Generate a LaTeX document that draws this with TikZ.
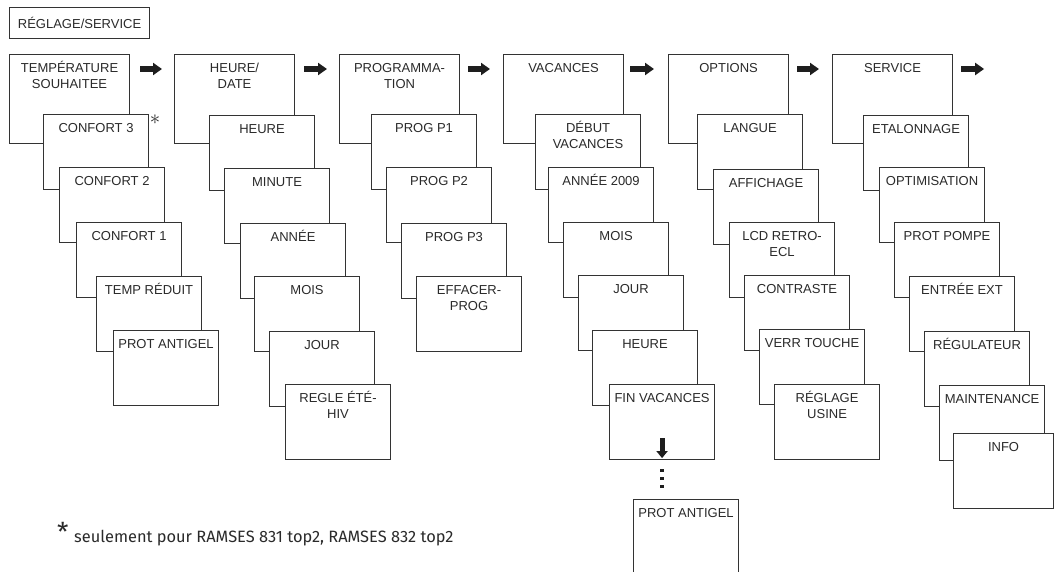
\documentclass[tikz,border=0pt]{standalone}
\usepackage{fontspec}
\setmainfont{Liberation Sans}
\newfontfamily\notefont{Fira Sans}
\usetikzlibrary{arrows.meta,calc}
\definecolor{ln}{HTML}{333333}
\definecolor{tx}{HTML}{2A2A2A}
\definecolor{ar}{HTML}{1E1E1E}
\tikzset{
  box/.style={draw=ln, line width=1.1pt, fill=white, anchor=north west, inner sep=0pt,
              minimum width=105pt, minimum height=75pt},
  topbox/.style={box, minimum width=120pt, minimum height=89pt},
  lbl/.style={anchor=north, inner sep=0pt, align=center, text=tx,
              font=\fontsize{13pt}{16pt}\selectfont},
  nav/.style={draw=ar, line width=6pt, -{Triangle[length=9pt,width=12pt]}},
  downnav/.style={draw=ar, line width=5pt, -{Triangle[length=7pt,width=11pt]}},
  dot/.style={fill=ar},
}
\newcommand\bx[4][box]{%
  \node[#1] (#2) at (#3) {};
  \node[lbl] (#2-t) at ([yshift=-6pt]#2.north) {\rule{0pt}{12pt}#4};}
\begin{document}
\begin{tikzpicture}[x=1pt,y=-1pt]
\useasboundingbox (0,0) rectangle (1055,572);
\clip (0,0) rectangle (1055,572);
% header
\node[draw=ln, line width=1.1pt, anchor=north west, inner sep=0pt, minimum width=140pt,
      minimum height=31pt, text=tx, font=\fontsize{13pt}{16pt}\selectfont] (rs) at (9,7) {RÉGLAGE/SERVICE};
% column 1
\bx[topbox]{c1}{9,54}{TEMPÉRATURE\\SOUHAITEE}
\bx{a1}{43,114}{CONFORT 3}
\bx{a2}{59,167}{CONFORT 2}
\bx{a3}{76,222}{CONFORT 1}
\bx{a4}{96,276}{TEMP RÉDUIT}
\bx{a5}{113,330}{PROT ANTIGEL}
\node[anchor=center, inner sep=0pt, text=tx, font=\fontsize{20pt}{20pt}\selectfont] (ast) at (155,120) {$\ast$};
% column 2
\bx[topbox]{c2}{174,54}{HEURE/\\DATE}
\bx{b1}{209,115}{HEURE}
\bx{b2}{224,168}{MINUTE}
\bx{b3}{240,223}{ANNÉE}
\bx{b4}{254,276}{MOIS}
\bx{b5}{269,331}{JOUR}
\bx{b6}{285,384}{REGLE ÉTÉ-\\HIV}
% column 3
\bx[topbox]{c3}{339,54}{PROGRAMMA-\\TION}
\bx{p1}{371,114}{PROG P1}
\bx{p2}{386,167}{PROG P2}
\bx{p3}{401,223}{PROG P3}
\bx{p4}{416,276}{EFFACER-\\PROG}
% column 4
\bx[topbox]{c4}{503,54}{VACANCES}
\bx{v1}{535,114}{DÉBUT\\VACANCES}
\bx{v2}{548,167}{ANNÉE 2009}
\bx{v3}{563,222}{MOIS}
\bx{v4}{578,275}{JOUR}
\bx{v5}{592,330}{HEURE}
\bx{v6}{609,384}{FIN VACANCES}
\node[box, minimum height=95pt] (v7) at (633,499) {};
\node[lbl] (v7-t) at ([yshift=-6pt]v7.north) {\rule{0pt}{12pt}PROT ANTIGEL};
\coordinate (fa) at ([yshift=22pt]v6.south);
\coordinate (fb) at ([yshift=2pt]v6.south);
\draw[downnav] (fa) -- (fb);
\foreach \d in {10,18,26}
  \fill[dot] ($(v6.south)+(-1.6,\d-1.6)$) rectangle ++(3.2,3.2);
% column 5
\bx[topbox]{c5}{668,54}{OPTIONS}
\bx{o1}{697,114}{LANGUE}
\bx{o2}{713,169}{AFFICHAGE}
\bx{o3}{729,222}{LCD RETRO-\\ECL}
\bx{o4}{744,275}{CONTRASTE}
\bx{o5}{759,329}{VERR TOUCHE}
\bx{o6}{774,384}{RÉGLAGE\\USINE}
% column 6
\bx[topbox]{c6}{832,54}{SERVICE}
\bx{s1}{863,115}{ETALONNAGE}
\bx{s2}{879,167}{OPTIMISATION}
\bx{s3}{894,222}{PROT POMPE}
\bx{s4}{909,276}{ENTRÉE EXT}
\bx{s5}{924,331}{RÉGULATEUR}
\bx{s6}{939,385}{MAINTENANCE}
\bx[box, minimum width=100pt]{s7}{953,433}{INFO}
% navigation arrows
\coordinate (end) at ($(c6.north east)+(31,15)$);
\draw[nav] ($(c1.north east)+(10,15)$) -- ($(c2.north west)+(-12,15)$);
\draw[nav] ($(c2.north east)+(9,15)$) -- ($(c3.north west)+(-12,15)$);
\draw[nav] ($(c3.north east)+(8,15)$) -- ($(c4.north west)+(-13,15)$);
\draw[nav] ($(c4.north east)+(6,15)$) -- ($(c5.north west)+(-14,15)$);
\draw[nav] ($(c5.north east)+(8,15)$) -- ($(c6.north west)+(-13,15)$);
\draw[nav] ($(c6.north east)+(8,15)$) -- (end);
% footnote
\node[anchor=base west, inner sep=0pt, text=tx, font=\notefont\fontsize{16.4pt}{19pt}\selectfont] (note) at (74,542)
  {seulement pour RAMSES 831 top2, RAMSES 832 top2};
\node[anchor=north west, inner sep=0pt, text=tx, font=\notefont\fontsize{26pt}{26pt}\selectfont] (nstar) at (57,522) {*};
\end{tikzpicture}
\end{document}
